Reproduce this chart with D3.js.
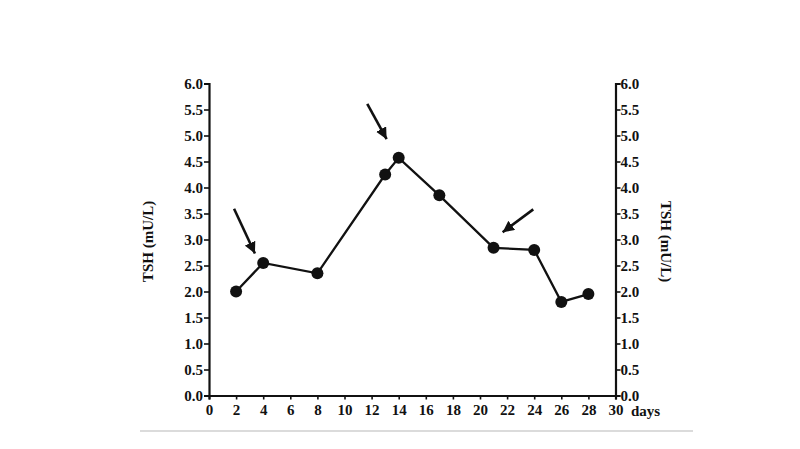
<!DOCTYPE html>
<html>
<head>
<meta charset="utf-8">
<script src="https://cdn.jsdelivr.net/npm/d3@7"></script>
<style>
  html, body { margin: 0; padding: 0; background: #fff; }
  svg { display: block; }
  text { font-family: "Liberation Serif", "Times New Roman", serif; font-weight: bold; fill: #111; }
</style>
</head>
<body>
<svg id="chart" width="800" height="449"></svg>
<script>
// ---- data ----
const days = [2, 4, 8, 13, 14, 17, 21, 24, 26, 28];
const tsh = [2.0, 2.55, 2.35, 4.25, 4.57, 3.85, 2.84, 2.80, 1.80, 1.95];
const xTicks = [0, 2, 4, 6, 8, 10, 12, 14, 16, 18, 20, 22, 24, 26, 28, 30];
const yTicks = [0, 0.5, 1, 1.5, 2, 2.5, 3, 3.5, 4, 4.5, 5, 5.5, 6];
const yTitle = "TSH (mU/L)";
const xUnit = "days";
// arrows: start (day, TSH) and tip (day, TSH)
const arrowStartX = [1.85, 11.68, 23.93];
const arrowStartY = [3.59, 5.61, 3.58];
const arrowTipX = [3.39, 13.11, 21.67];
const arrowTipY = [2.73, 4.93, 3.14];

// ---- layout ----
const svg = d3.select("#chart");
const mLeft = 209, mRight = 615.5, mTop = 83.5, mBottom = 395.5;
const x = d3.scaleLinear().domain([0, 30]).range([mLeft, mRight]);
const y = d3.scaleLinear().domain([0, 6]).range([mBottom, mTop]);

// bottom gray rule
svg.append("line").attr("x1", 140).attr("x2", 693).attr("y1", 431).attr("y2", 431)
  .attr("stroke", "#cfcfcf").attr("stroke-width", 1.5);

function styleAxis(g) {
  g.selectAll(".domain").attr("stroke", "#111").attr("stroke-width", 2.2);
  g.selectAll(".tick line").attr("stroke", "#111").attr("stroke-width", 1.6);
  g.selectAll(".tick text").style("font-size", "15px").style("font-family", "'Liberation Serif', serif")
    .style("font-weight", "bold").attr("fill", "#111");
}

// left axis
const gl = svg.append("g").attr("transform", `translate(${mLeft},0)`)
  .call(d3.axisLeft(y).tickValues(yTicks).tickFormat(d3.format(".1f")).tickSizeOuter(0).tickSize(5).tickPadding(1));
styleAxis(gl);

// right axis
const gr = svg.append("g").attr("transform", `translate(${mRight},0)`)
  .call(d3.axisRight(y).tickValues(yTicks).tickFormat(d3.format(".1f")).tickSizeOuter(0).tickSize(5).tickPadding(0));
styleAxis(gr);

// bottom axis
const gb = svg.append("g").attr("transform", `translate(0,${mBottom})`)
  .call(d3.axisBottom(x).tickValues(xTicks).tickFormat(d3.format("d")).tickSizeOuter(0).tickSize(4).tickPadding(5));
styleAxis(gb);

// axis titles
svg.append("text").attr("transform", `translate(153,${(mTop + mBottom) / 2 + 2}) rotate(-90)`)
  .attr("text-anchor", "middle").style("font-size", "15px").text(yTitle);
svg.append("text").attr("transform", `translate(661,${(mTop + mBottom) / 2 + 2}) rotate(90)`)
  .attr("text-anchor", "middle").style("font-size", "15px").text(yTitle);
svg.append("text").attr("x", 631).attr("y", 416).style("font-size", "15px").text(xUnit);

// arrowhead marker
svg.append("defs").append("marker").attr("id", "ah")
  .attr("viewBox", "0 0 10 10").attr("refX", 10).attr("refY", 5)
  .attr("markerWidth", 4.4).attr("markerHeight", 4.4).attr("markerUnits", "strokeWidth")
  .attr("orient", "auto")
  .append("path").attr("d", "M0,0 L10,5 L0,10 z").attr("fill", "#111");

svg.append("g").selectAll("line").data(arrowStartX).join("line")
  .attr("x1", (d, i) => x(arrowStartX[i])).attr("y1", (d, i) => y(arrowStartY[i]))
  .attr("x2", (d, i) => x(arrowTipX[i])).attr("y2", (d, i) => y(arrowTipY[i]))
  .attr("stroke", "#111").attr("stroke-width", 2.6).attr("marker-end", "url(#ah)");

// line
const pts = days.map((d, i) => [d, tsh[i]]);
svg.append("path").datum(pts)
  .attr("d", d3.line().x(d => x(d[0])).y(d => y(d[1])))
  .attr("fill", "none").attr("stroke", "#111").attr("stroke-width", 2.3);

// points
svg.append("g").selectAll("circle").data(pts).join("circle")
  .attr("cx", d => x(d[0])).attr("cy", d => y(d[1])).attr("r", 6).attr("fill", "#111");
</script>
</body>
</html>
